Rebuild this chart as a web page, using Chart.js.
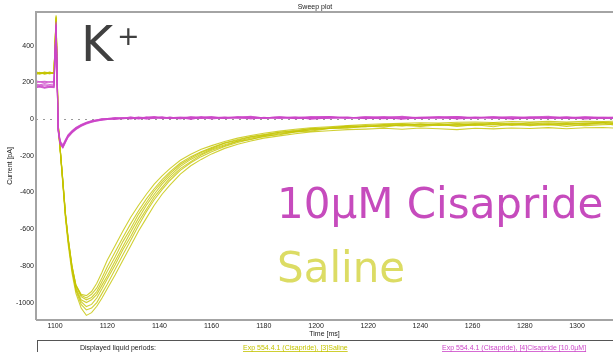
<!DOCTYPE html>
<html>
<head>
<meta charset="utf-8">
<script src="https://cdn.jsdelivr.net/npm/chart.js@4.4.1/dist/chart.umd.min.js"></script>
<style>
  html, body { margin: 0; padding: 0; background: #fff; }
  #sweeps { display: block; }
</style>
</head>
<body>
<canvas id="sweeps" width="613" height="352"></canvas>
<script>
// Sample times (ms) shared by every sweep
const timeMs = [
    1092.7, 1094, 1096, 1098, 1099.6, 1100.4, 1101.2, 1102, 1103, 1104,
    1105, 1106.5, 1108, 1110, 1112, 1114, 1116, 1118, 1120, 1123,
    1126, 1129, 1132, 1135, 1138, 1141, 1144, 1148, 1152, 1156,
    1160, 1165, 1170, 1175, 1180, 1186, 1192, 1198, 1205, 1212,
    1219, 1226, 1233, 1240, 1247, 1254, 1261, 1268, 1275, 1282,
    1289, 1296, 1303, 1310, 1314
];

// Saline sweeps, current in pA
const saline1 = [
    255, 248, 256, 251, 253, 565, -40, -180, -360, -545,
    -680, -840, -950, -1030, -1070, -1055, -1020, -975, -925, -850,
    -770, -690, -610, -540, -470, -410, -360, -300, -255, -220,
    -190, -160, -138, -120, -104, -92, -80, -70, -64, -58,
    -55, -50, -56, -49, -53, -58, -50, -54, -49, -52,
    -47, -53, -48, -46, -49
];
const saline2 = [
    246, 252, 247, 254, 249, 540, -30, -170, -345, -525,
    -660, -820, -935, -1010, -1040, -1030, -1000, -950, -900, -820,
    -740, -660, -580, -505, -440, -385, -335, -280, -238, -205,
    -178, -150, -128, -110, -96, -82, -70, -60, -52, -46,
    -42, -38, -35, -40, -33, -37, -34, -30, -35, -31,
    -34, -30, -36, -31, -29
];
const saline3 = [
    250, 244, 252, 246, 255, 555, -35, -175, -350, -530,
    -655, -815, -920, -985, -1000, -985, -955, -905, -855, -775,
    -695, -615, -540, -470, -410, -355, -310, -258, -220, -190,
    -165, -140, -120, -104, -90, -78, -68, -58, -50, -44,
    -40, -36, -33, -30, -34, -32, -28, -31, -27, -30,
    -26, -29, -25, -27, -24
];
const saline4 = [
    258, 251, 245, 250, 247, 548, -25, -165, -335, -515,
    -645, -800, -905, -960, -975, -955, -920, -865, -805, -725,
    -645, -570, -500, -435, -380, -330, -288, -240, -205, -178,
    -155, -130, -112, -96, -84, -72, -62, -53, -46, -40,
    -35, -31, -28, -32, -26, -29, -25, -22, -26, -23,
    -20, -24, -21, -18, -20
];
const saline5 = [
    243, 249, 254, 248, 252, 530, -30, -170, -340, -520,
    -650, -805, -905, -955, -962, -940, -895, -835, -770, -690,
    -610, -535, -470, -410, -355, -310, -270, -225, -192, -165,
    -145, -122, -104, -90, -78, -66, -56, -48, -42, -36,
    -30, -26, -24, -20, -22, -18, -16, -19, -14, -17,
    -13, -16, -12, -14, -12
];
const saline6 = [
    252, 247, 250, 256, 248, 550, -35, -172, -348, -528,
    -662, -818, -928, -995, -1022, -1010, -975, -925, -872, -795,
    -712, -640, -560, -492, -425, -372, -322, -270, -232, -196,
    -170, -146, -122, -112, -93, -86, -70, -66, -52, -50,
    -38, -44, -30, -38, -28, -40, -31, -42, -26, -36,
    -28, -40, -30, -22, -33
];
const saline7 = [
    249, 255, 246, 251, 250, 560, -28, -168, -338, -518,
    -648, -802, -910, -968, -985, -972, -940, -885, -830, -752,
    -668, -596, -518, -455, -392, -342, -298, -248, -212, -182,
    -160, -132, -116, -98, -88, -72, -66, -52, -50, -38,
    -42, -30, -38, -26, -35, -24, -34, -22, -31, -20,
    -30, -21, -28, -18, -25
];

// 10 µM cisapride sweeps, current in pA
const cisapride1 = [
    208, 203, 206, 201, 205, 520, -50, -120, -140, -112,
    -86, -64, -46, -30, -18, -10, -4, 0, 3, 6,
    8, 5, 10, 7, 12, 9, 6, 11, 8, 13,
    9, 7, 12, 10, 6, 11, 8, 13, 9, 7,
    11, 14, 8, 10, 12, 7, 11, 9, 13, 8,
    10, 6, 11, 9, 8
];
const cisapride2 = [
    198, 202, 197, 203, 199, 505, -55, -128, -148, -120,
    -93, -70, -52, -36, -23, -14, -8, -3, 1, 4,
    2, 7, 4, 9, 5, 8, 3, 7, 10, 5,
    8, 11, 6, 9, 4, 8, 11, 6, 9, 5,
    10, 7, 4, 9, 6, 10, 5, 8, 4, 9,
    6, 3, 8, 5, 6
];
const cisapride3 = [
    176, 181, 174, 179, 177, 530, -65, -135, -155, -125,
    -97, -74, -55, -38, -25, -16, -10, -5, -2, 1,
    4, 2, 6, 3, 8, 4, 9, 5, 3, 7,
    4, 9, 5, 3, 8, 4, 7, 2, 6, 9,
    4, 6, 2, 7, 4, 3, 8, 5, 2, 6,
    3, 7, 2, 4, 3
];
const cisapride4 = [
    170, 174, 168, 173, 171, 495, -60, -130, -150, -118,
    -90, -68, -50, -33, -20, -12, -6, -2, 2, 5,
    3, 8, 5, 10, 6, 11, 7, 4, 9, 6,
    10, 5, 8, 12, 7, 10, 5, 9, 13, 8,
    6, 10, 12, 6, 9, 13, 7, 10, 6, 11,
    8, 12, 7, 10, 9
];
const cisapride5 = [
    184, 179, 185, 180, 183, 510, -70, -140, -158, -128,
    -100, -76, -57, -40, -27, -17, -11, -6, -3, 0,
    2, 5, 1, 4, 7, 3, 6, 8, 2, 5,
    7, 3, 9, 6, 4, 8, 3, 6, 4, 8,
    5, 2, 7, 4, 8, 5, 9, 4, 7, 3,
    8, 5, 9, 6, 5
];
const cisapride6 = [
    190, 186, 192, 188, 191, 515, -58, -126, -146, -116,
    -88, -66, -48, -32, -20, -9, -5, 2, -1, 7,
    3, 12, 2, 9, 14, 4, 10, 1, 12, 6,
    13, 3, 10, 15, 5, 12, 2, 9, 14, 4,
    12, 5, 15, 3, 10, 14, 4, 12, 2, 11,
    15, 4, 12, 6, 10
];
const cisapride7 = [
    172, 177, 171, 176, 173, 500, -62, -132, -152, -121,
    -94, -72, -54, -35, -22, -15, -7, -4, 3, -2,
    6, 0, 9, -1, 5, 11, 2, 8, -2, 10,
    1, 7, 12, 0, 9, 3, 11, -1, 6, 10,
    2, 9, -1, 8, 12, 1, 7, 11, 0, 8,
    4, 10, 0, 7, 3
];

const salineSweeps = [saline1, saline2, saline3, saline4, saline5, saline6, saline7];
const cisaprideSweeps = [cisapride1, cisapride2, cisapride3, cisapride4, cisapride5, cisapride6, cisapride7];

const SALINE_COLOR = 'rgba(196, 196, 0, 0.8)';
const CISAPRIDE_COLOR = 'rgba(204, 70, 200, 0.8)';

const toPoints = values => values.map((v, i) => ({ x: timeMs[i], y: v }));

function sweepDataset(values, color, label) {
    return {
        label,
        data: toPoints(values),
        borderColor: color,
        borderWidth: 1.1,
        pointRadius: 0,
        tension: 0,
        fill: false
    };
}

// Dataset 0 is painted last, so cisapride goes first to sit on top
const datasets = [
    ...cisaprideSweeps.map((s, i) => sweepDataset(s, CISAPRIDE_COLOR, 'Cisapride ' + (i + 1))),
    ...salineSweeps.map((s, i) => sweepDataset(s, SALINE_COLOR, 'Saline ' + (i + 1)))
];

// Frame, zero line, labels and the liquid-period strip
const decorations = {
    id: 'decorations',
    beforeDatasetsDraw(chart) {
        const { ctx, chartArea: a, scales } = chart;
        const y0 = scales.y.getPixelForValue(0);
        ctx.save();
        ctx.strokeStyle = '#9a9a9a';
        ctx.lineWidth = 1;
        ctx.setLineDash([2, 5]);
        ctx.beginPath();
        ctx.moveTo(a.left, Math.round(y0) + 0.5);
        ctx.lineTo(a.right, Math.round(y0) + 0.5);
        ctx.stroke();
        ctx.restore();
    },
    afterDraw(chart) {
        const { ctx, chartArea: a } = chart;
        ctx.save();

        // plot frame
        ctx.strokeStyle = '#a4a4a4';
        ctx.lineWidth = 2;
        ctx.beginPath();
        ctx.moveTo(a.left, a.bottom);
        ctx.lineTo(a.left, a.top);
        ctx.lineTo(a.right + 2, a.top);
        ctx.moveTo(a.left, a.bottom);
        ctx.lineTo(a.right + 2, a.bottom);
        ctx.stroke();

        // title
        ctx.fillStyle = '#222';
        ctx.font = '7px "Liberation Sans"';
        ctx.textAlign = 'center';
        ctx.textBaseline = 'alphabetic';
        ctx.fillText('Sweep plot', 315, 9);

        // big annotations
        ctx.textAlign = 'left';
        ctx.fillStyle = '#404040';
        ctx.font = '49px "DejaVu Sans"';
        ctx.fillText('K', 81, 61);
        ctx.font = '27px "DejaVu Sans"';
        ctx.fillText('+', 117, 45);

        ctx.font = '42px "DejaVu Sans"';
        ctx.fillStyle = '#c64bbd';
        ctx.fillText('10µM Cisapride', 277, 218);
        ctx.fillStyle = '#dcdc64';
        ctx.fillText('Saline', 277, 282);

        // displayed liquid periods strip
        ctx.strokeStyle = '#555';
        ctx.lineWidth = 1;
        ctx.strokeRect(37.5, 340.5, 590, 16);
        ctx.font = '7px "Liberation Sans"';
        ctx.fillStyle = '#222';
        ctx.fillText('Displayed liquid periods:', 80, 350);

        const periods = [
            { text: 'Exp 554.4.1 (Cisapride), [3]Saline', x: 243, color: '#c4c400' },
            { text: 'Exp 554.4.1 (Cisapride), [4]Cisapride [10.0µM]', x: 442, color: '#cc46c8' }
        ];
        periods.forEach(p => {
            ctx.fillStyle = p.color;
            ctx.fillText(p.text, p.x, 350);
            const w = ctx.measureText(p.text).width;
            ctx.fillRect(p.x, 351, w, 0.8);
        });

        ctx.restore();
    }
};

const tickFont = { family: 'Liberation Sans', size: 7 };

new Chart(document.getElementById('sweeps'), {
    type: 'line',
    data: { datasets },
    options: {
        responsive: false,
        animation: false,
        devicePixelRatio: 1,
        layout: { padding: { top: 12, right: 0, bottom: 13, left: 0 } },
        plugins: {
            legend: { display: false },
            tooltip: { enabled: false },
            title: { display: false }
        },
        scales: {
            x: {
                type: 'linear',
                min: 1092.7,
                max: 1313.8,
                grid: { display: false, drawTicks: false },
                border: { display: false },
                ticks: {
                    stepSize: 20,
                    includeBounds: false,
                    autoSkip: false,
                    maxRotation: 0,
                    padding: 2,
                    color: '#222',
                    font: tickFont,
                    callback: v => String(v)
                },
                title: {
                    display: true,
                    text: 'Time [ms]',
                    color: '#222',
                    font: tickFont,
                    padding: { top: 0, bottom: 1 }
                },
                afterFit(scale) { scale.height = 19; }
            },
            y: {
                min: -1095,
                max: 583,
                grid: { display: false, drawTicks: false },
                border: { display: false },
                ticks: {
                    stepSize: 200,
                    includeBounds: false,
                    padding: 2,
                    color: '#222',
                    font: tickFont,
                    callback: v => String(v)
                },
                title: {
                    display: true,
                    text: 'Current [pA]',
                    color: '#222',
                    font: tickFont,
                    padding: { top: 6, bottom: 0 }
                },
                afterFit(scale) { scale.width = 36; }
            }
        }
    },
    plugins: [decorations]
});
</script>
</body>
</html>
